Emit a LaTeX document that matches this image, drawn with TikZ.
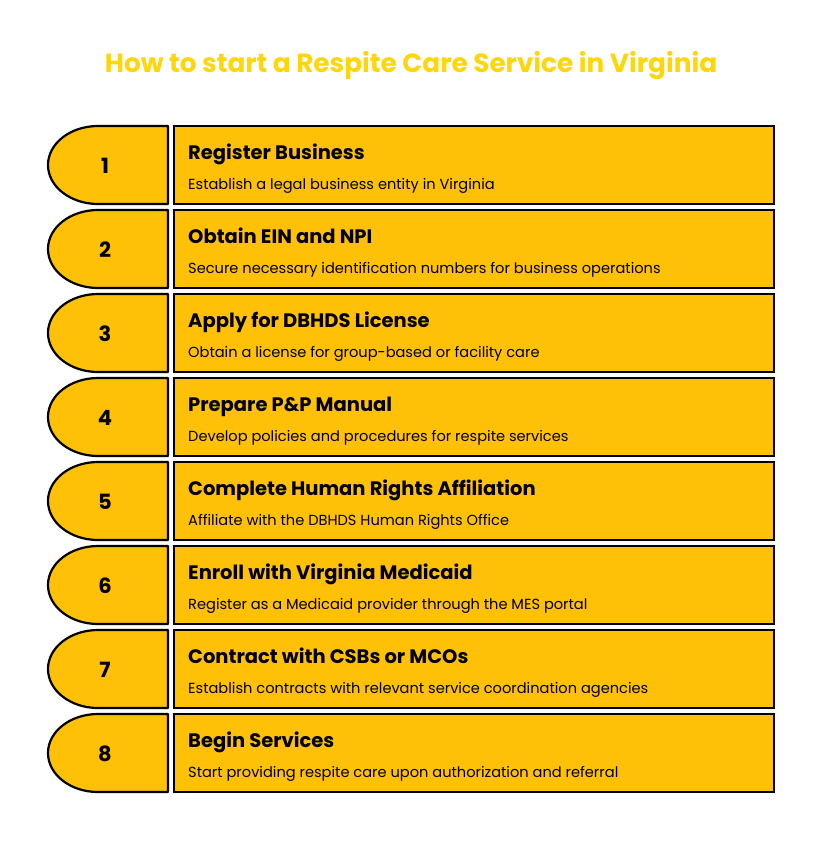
\documentclass[tikz,border=0pt]{standalone}
\usepackage{fontspec}
\setmainfont{Poppins}
\definecolor{boxfill}{HTML}{FFC107}
\definecolor{titlecol}{HTML}{FFD60A}
\begin{document}
\begin{tikzpicture}[x=1pt,y=-1pt,
  numshape/.style={draw=black,line width=2.2pt,fill=boxfill,line join=round},
  stepbox/.style={draw=black,line width=2.2pt,fill=boxfill},
  numtext/.style={font=\fontsize{21}{24}\selectfont\bfseries,anchor=center},
  headtext/.style={font=\fontsize{19.5}{22}\selectfont\bfseries,anchor=base west},
  bodytext/.style={font=\fontsize{14.6}{17}\selectfont,anchor=base west}]
\useasboundingbox (0,0) rectangle (822,864);
\node[font=\fontsize{26.3}{30}\selectfont\bfseries,text=titlecol,anchor=base] (title) at (411,73) {How to start a Respite Care Service in Virginia};
\foreach \i/\h/\b in {
 1/{Register Business}/{Establish a legal business entity in Virginia},
 2/{Obtain EIN and NPI}/{Secure necessary identification numbers for business operations},
 3/{Apply for DBHDS License}/{Obtain a license for group-based or facility care},
 4/{Prepare P\&P Manual}/{Develop policies and procedures for respite services},
 5/{Complete Human Rights Affiliation}/{Affiliate with the DBHDS Human Rights Office},
 6/{Enroll with Virginia Medicaid}/{Register as a Medicaid provider through the MES portal},
 7/{Contract with CSBs or MCOs}/{Establish contracts with relevant service coordination agencies},
 8/{Begin Services}/{Start providing respite care upon authorization and referral}}{
  \pgfmathsetmacro{\t}{126+84*(\i-1)}
  \pgfmathsetmacro{\bt}{\t+78}
  \draw[numshape] (168,\t) -- (98,\t) arc[start angle=270,end angle=90,x radius=50,y radius=39] -- (168,\bt) -- cycle;
  \draw[stepbox] (174,\t) rectangle (774,\bt);
  \node[numtext] (n\i) at (105,\t+40) {\i};
  \node[headtext,inner sep=0pt] (h\i) at (188,\t+33) {\h};
  \node[bodytext,inner sep=0pt] (b\i) at (188,\t+63) {\b};
}
\end{tikzpicture}
\end{document}
